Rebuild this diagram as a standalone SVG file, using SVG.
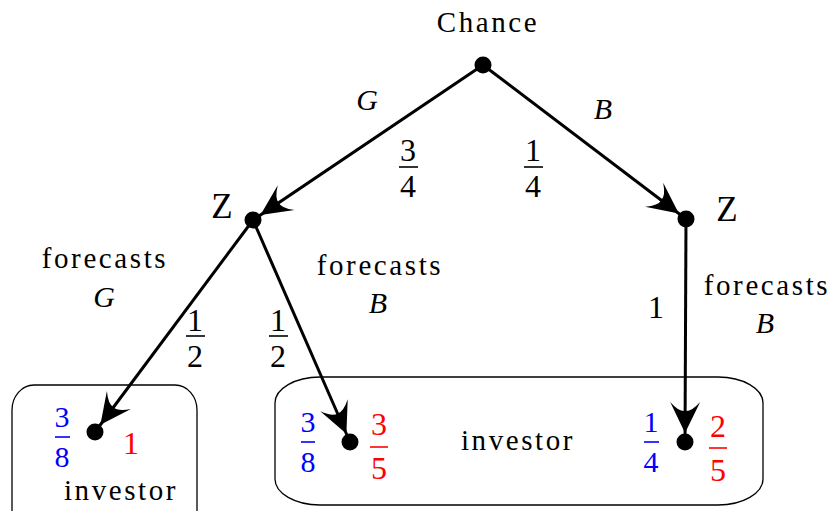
<svg xmlns="http://www.w3.org/2000/svg" width="832" height="511" viewBox="0 0 832 511" font-family="'Liberation Serif', 'Times New Roman', serif">
<style>
.w{font-size:29px;letter-spacing:2.6px;text-anchor:middle}
.i{font-size:30px;font-style:italic;text-anchor:middle}
.z{font-size:35px;text-anchor:middle}
.d{font-size:32px;text-anchor:middle}
.db{font-size:30px;text-anchor:middle;fill:#0000ff}
.dr{font-size:32px;text-anchor:middle;fill:#ff0000}
.bar{stroke:#000;stroke-width:1.6}
.bb{stroke:#0000ff;stroke-width:1.6}
.br{stroke:#ff0000;stroke-width:1.6}
.e{stroke:#000;stroke-width:3;fill:none;marker-end:url(#ah)}
.box{fill:none;stroke:#000;stroke-width:1.3}
</style>
<defs>
<marker id="ah" markerUnits="userSpaceOnUse" viewBox="-34 -17 44 34" markerWidth="44" markerHeight="34" refX="9" refY="0" orient="auto">
<path d="M0,0 L-31,-15 Q-21,-6 -22,0 Q-21,6 -31,15 Z" fill="#000"/>
</marker>
</defs>
<g id="boxes">
<rect class="box" x="12" y="385" width="185" height="150" rx="22" ry="25"/>
<rect class="box" x="275" y="377" width="488" height="128" rx="45" ry="26"/>
</g>
<g id="connectors">
<line class="e" x1="483" y1="65" x2="253" y2="220"/>
<line class="e" x1="483" y1="65" x2="686" y2="219"/>
<line class="e" x1="253" y1="220" x2="95" y2="432"/>
<line class="e" x1="253" y1="220" x2="350" y2="442"/>
<line class="e" x1="686" y1="219" x2="685" y2="442"/>
</g>
<g id="chance">
<circle cx="483" cy="65" r="8.5"/>
<text class="w" x="488" y="32">Chance</text>
</g>
<g id="edge-labels">
<text class="i" x="367" y="110">G</text>
<text class="i" x="603" y="119">B</text>
<text class="d" x="408" y="161">3</text><line class="bar" x1="399" y1="167" x2="418" y2="167"/><text class="d" x="408" y="197">4</text>
<text class="d" x="533" y="161">1</text><line class="bar" x1="524" y1="167" x2="543" y2="167"/><text class="d" x="533" y="197">4</text>
<text class="w" x="105" y="268">forecasts</text>
<text class="i" x="104" y="307">G</text>
<text class="w" x="380" y="275">forecasts</text>
<text class="i" x="378" y="313">B</text>
<text class="w" x="767" y="295">forecasts</text>
<text class="i" x="765" y="333">B</text>
<text class="d" x="195" y="331">1</text><line class="bar" x1="186" y1="336" x2="205" y2="336"/><text class="d" x="195" y="367">2</text>
<text class="d" x="278" y="331">1</text><line class="bar" x1="269" y1="336" x2="288" y2="336"/><text class="d" x="278" y="367">2</text>
<text class="d" x="656" y="318">1</text>
</g>
<g id="zleft">
<circle cx="253" cy="220" r="8.5"/>
<text class="z" x="222" y="218">Z</text>
</g>
<g id="zright">
<circle cx="686" cy="219" r="8.5"/>
<text class="z" x="727" y="221">Z</text>
</g>
<g id="leaf1">
<circle cx="95" cy="432" r="8.5"/>
<text class="db" x="62" y="427">3</text><line class="bb" x1="55" y1="437" x2="70" y2="437"/><text class="db" x="62" y="467">8</text>
<text class="dr" x="131" y="454">1</text>
<text class="w" x="121" y="500">investor</text>
</g>
<g id="leaf2">
<circle cx="350" cy="442" r="8.5"/>
<text class="db" x="308" y="432">3</text><line class="bb" x1="301" y1="442" x2="315" y2="442"/><text class="db" x="308" y="472">8</text>
<text class="dr" x="379" y="435">3</text><line class="br" x1="370" y1="447" x2="388" y2="447"/><text class="dr" x="379" y="479">5</text>
<text class="w" x="518" y="450">investor</text>
</g>
<g id="leaf3">
<circle cx="685" cy="442" r="8.5"/>
<text class="db" x="651" y="432">1</text><line class="bb" x1="644" y1="442" x2="659" y2="442"/><text class="db" x="651" y="472">4</text>
<text class="dr" x="718" y="437">2</text><line class="br" x1="709" y1="448" x2="727" y2="448"/><text class="dr" x="718" y="481">5</text>
</g>
</svg>
